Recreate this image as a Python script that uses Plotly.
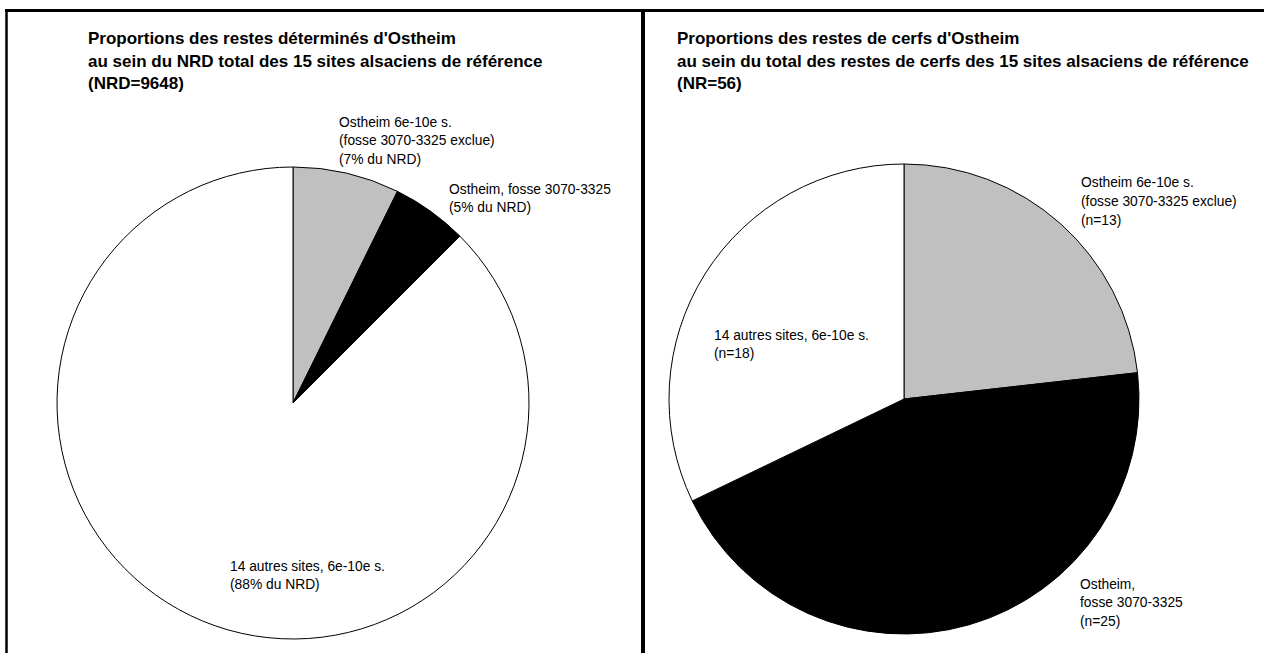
import plotly.graph_objects as go

W, H = 1268, 653

# ---- data ----
categories = ["Ostheim 6e-10e s. (fosse 3070-3325 exclue)",
              "Ostheim, fosse 3070-3325",
              "14 autres sites, 6e-10e s."]
nrd_values = [704, 502, 8442]          # NRD total = 9648 (7%, 5%, 88%)
cerf_values = [13, 25, 18]             # NR = 56
slice_colors = ["#c0c0c0", "#000000", "#ffffff"]

left_title = ["Proportions des restes déterminés d'Ostheim",
              "au sein du NRD total des 15 sites alsaciens de référence",
              "(NRD=9648)"]
right_title = ["Proportions des restes de cerfs d'Ostheim",
               "au sein du total des restes de cerfs des 15 sites alsaciens de référence",
               "(NR=56)"]

left_labels = [["Ostheim 6e-10e s.", "(fosse 3070-3325 exclue)", "(7% du NRD)"],
               ["Ostheim, fosse 3070-3325", "(5% du NRD)"],
               ["14 autres sites, 6e-10e s.", "(88% du NRD)"]]
right_labels = [["Ostheim 6e-10e s.", "(fosse 3070-3325 exclue)", "(n=13)"],
                ["Ostheim,", "fosse 3070-3325", "(n=25)"],
                ["14 autres sites, 6e-10e s.", "(n=18)"]]


def px(x):
    return x / W


def py(y):
    return 1 - y / H


FONT = "Liberation Sans, Arial, sans-serif"
TITLE_SIZE = 17
LABEL_SIZE = 13.8

fig = go.Figure()


def add_pie(values, cx, cy, r):
    fig.add_trace(go.Pie(
        labels=categories, values=values, sort=False, direction="clockwise",
        rotation=0, textinfo="none", hoverinfo="label+value+percent",
        marker=dict(colors=slice_colors, line=dict(color="#000000", width=1)),
        domain=dict(x=[px(cx - r), px(cx + r)], y=[py(cy + r), py(cy - r)]),
        showlegend=False,
    ))


add_pie(nrd_values, 293, 403, 236)
add_pie(cerf_values, 904, 399, 235)

annotations = []


def add_lines(lines, x, y0, step, size, bold=False):
    for i, t in enumerate(lines):
        annotations.append(dict(
            text=("<b>%s</b>" % t) if bold else t,
            x=px(x), y=py(y0 + i * step), xref="paper", yref="paper",
            xanchor="left", yanchor="middle", showarrow=False,
            font=dict(family=FONT, size=size, color="#000000"),
        ))


add_lines(left_title, 86, 39, 22.5, TITLE_SIZE, bold=True)
add_lines(right_title, 675, 39, 22.5, TITLE_SIZE, bold=True)

add_lines(left_labels[0], 337, 122, 18.5, LABEL_SIZE)
add_lines(left_labels[1], 447, 189, 18.5, LABEL_SIZE)
add_lines(left_labels[2], 228, 566, 18.5, LABEL_SIZE)

add_lines(right_labels[0], 1079, 183, 18.5, LABEL_SIZE)
add_lines(right_labels[1], 1078, 584, 18.5, LABEL_SIZE)
add_lines(right_labels[2], 712, 335, 18.5, LABEL_SIZE)

shapes = [
    dict(type="line", xref="paper", yref="paper", x0=px(5), x1=px(1264),
         y0=py(10.5), y1=py(10.5), line=dict(color="#000000", width=3)),
    dict(type="line", xref="paper", yref="paper", x0=px(6.5), x1=px(6.5),
         y0=py(9), y1=0, line=dict(color="#000000", width=2.5)),
    dict(type="line", xref="paper", yref="paper", x0=px(643), x1=px(643),
         y0=py(9), y1=0, line=dict(color="#000000", width=4)),
]

fig.update_layout(
    width=W, height=H, margin=dict(l=0, r=0, t=0, b=0),
    paper_bgcolor="#ffffff", plot_bgcolor="#ffffff",
    annotations=annotations, shapes=shapes, showlegend=False,
)

fig.write_html("out.html",
               config={"displayModeBar": False},
               post_script="document.body.style.margin='0';"
                           "document.body.style.overflow='hidden';")
